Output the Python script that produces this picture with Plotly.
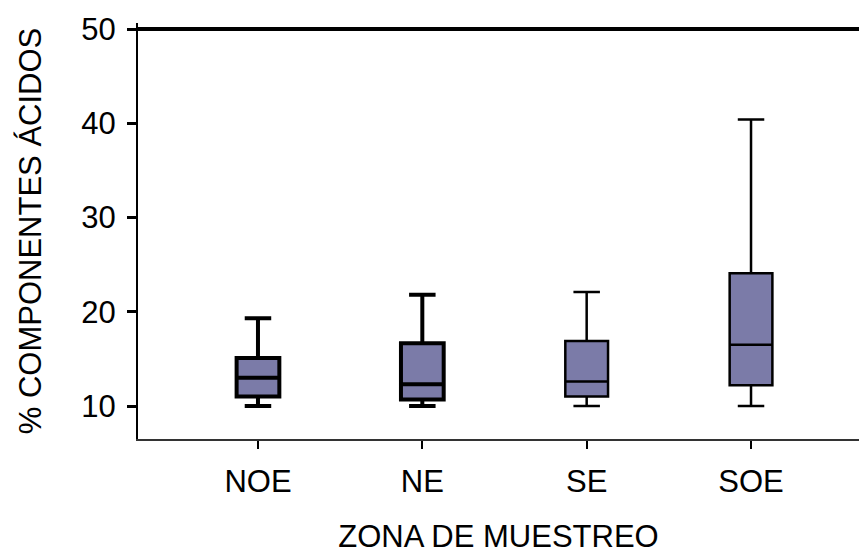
import plotly.graph_objects as go

zones = ["NOE", "NE", "SE", "SOE"]
lower_fence = [10.0, 10.0, 10.0, 10.0]
q1_vals = [11.0, 10.7, 11.0, 12.2]
median_vals = [13.0, 12.3, 12.6, 16.5]
q3_vals = [15.1, 16.65, 16.9, 24.1]
upper_fence = [19.3, 21.8, 22.1, 40.4]
y_ticks = [10, 20, 30, 40, 50]
ref_line_value = 50

line_widths = [4, 4, 2.5, 2.5]
fill = "#7b7ba8"

fig = go.Figure()
for i, z in enumerate(zones):
    fig.add_trace(go.Box(
        x=[i], q1=[q1_vals[i]], median=[median_vals[i]], q3=[q3_vals[i]],
        lowerfence=[lower_fence[i]], upperfence=[upper_fence[i]],
        name=z, fillcolor=fill, line=dict(color="black", width=line_widths[i]),
        width=0.26, whiskerwidth=0.62, boxpoints=False, showlegend=False,
        hoverinfo="skip",
    ))

fig.add_shape(type="line", xref="paper", x0=0, x1=1, yref="y",
              y0=ref_line_value, y1=ref_line_value,
              line=dict(color="black", width=4))

font = dict(family="Liberation Sans, Arial, sans-serif", size=31, color="black")

fig.update_layout(
    width=859, height=554,
    margin=dict(l=138, r=0, t=23, b=115),
    plot_bgcolor="white", paper_bgcolor="white",
    font=font, boxmode="overlay",
    xaxis=dict(
        range=[-0.73, 3.657], tickmode="array", tickvals=list(range(len(zones))),
        ticktext=zones, showgrid=False, zeroline=False, automargin=False,
        showline=True, linecolor="#333333", linewidth=2,
        ticks="outside", ticklen=8, tickwidth=2, tickcolor="black",
        ticklabelstandoff=6,
        title=dict(text="ZONA DE MUESTREO", font=font, standoff=44),
    ),
    yaxis=dict(
        range=[6.5, 50.64], tickmode="array", tickvals=y_ticks,
        showgrid=False, zeroline=False, automargin=False,
        showline=True, linecolor="black", linewidth=2,
        ticks="outside", ticklen=9, tickwidth=3, tickcolor="black",
        ticklabelstandoff=5,
        title=dict(text="% COMPONENTES ÁCIDOS", font=dict(family=font["family"], size=31, color="black"), standoff=30),
    ),
)

fig.write_html("out.html", config={"displayModeBar": False},
               post_script="document.body.style.margin='0';document.body.style.overflow='hidden';")
